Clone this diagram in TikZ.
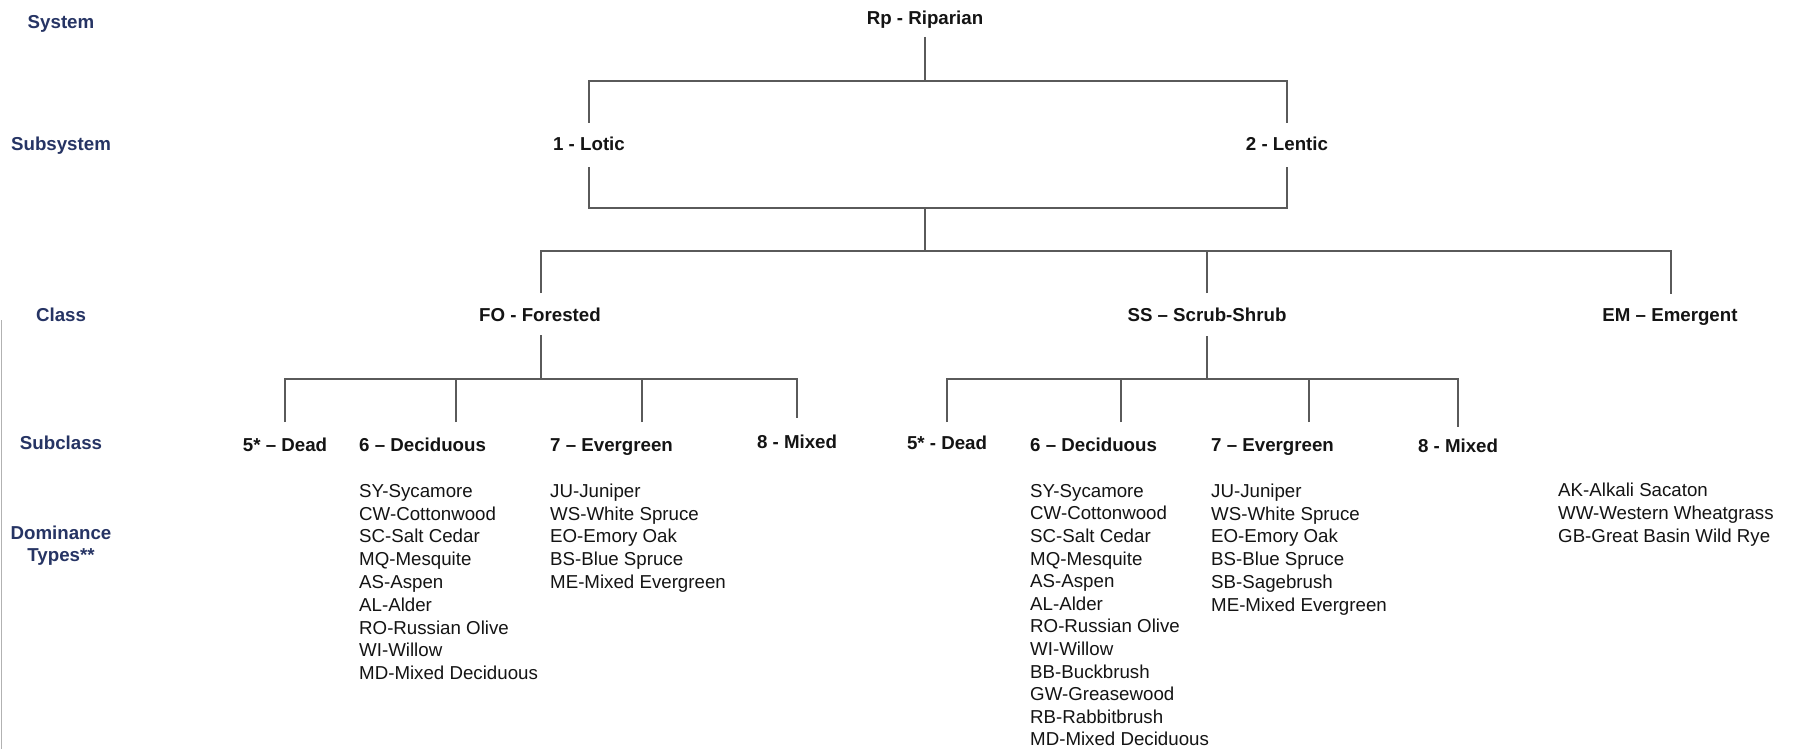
\documentclass[tikz,border=0pt]{standalone}
\usepackage{fontspec}
\setmainfont{Liberation Sans}
\definecolor{labcol}{RGB}{38,52,100}
\definecolor{linecol}{RGB}{90,90,90}
\definecolor{txtcol}{RGB}{20,20,20}
\begin{document}
\begin{tikzpicture}[x=1pt,y=-1pt,
  lvl/.style={font=\bfseries\fontsize{18.7}{22.8}\selectfont, text=labcol, anchor=base, inner sep=0pt},
  lbl/.style={font=\bfseries\fontsize{18.7}{22.8}\selectfont, text=txtcol, anchor=base, inner sep=0pt},
  lblw/.style={lbl, anchor=base west},
  item/.style={font=\fontsize{18.7}{22.8}\selectfont, text=txtcol, anchor=base west, inner sep=0pt},
  conn/.style={draw=linecol, line width=1.3pt}]
\fill[white] (0,0) rectangle (1795,749);
\useasboundingbox (0,0) rectangle (1795,749);
\draw[black!30, line width=1pt] (1,320) -- (1,749);

% left level labels
\node[lvl] (lsys) at (61,28.5) {System};
\node[lvl] (lsub) at (61,150.7) {Subsystem};
\node[lvl] (lcls) at (61,321) {Class};
\node[lvl] (lscl) at (61,449) {Subclass};
\node[lvl] (ldom) at (61,539) {Dominance};
\node[lvl] (ltyp) at (61,561.7) {Types**};

% tree labels
\node[lbl] (rp) at (925,25) {Rp - Riparian};
\node[lbl] (lot) at (589,150.7) {1 - Lotic};
\node[lbl] (len) at (1287,150.7) {2 - Lentic};
\node[lbl] (fo) at (540,321) {FO - Forested};
\node[lbl] (ss) at (1207,321.5) {SS – Scrub-Shrub};
\node[lbl] (em) at (1670,321.5) {EM – Emergent};

\node[lbl] (fo5) at (285,451.5) {5* – Dead};
\node[lblw] (fo6) at (359,451.7) {6 – Deciduous};
\node[lblw] (fo7) at (550,451) {7 – Evergreen};
\node[lbl] (fo8) at (797,448.5) {8 - Mixed};
\node[lbl] (ss5) at (947,449.5) {5* - Dead};
\node[lblw] (ss6) at (1030,451.5) {6 – Deciduous};
\node[lblw] (ss7) at (1211,451.5) {7 – Evergreen};
\node[lbl] (ss8) at (1458,452.5) {8 - Mixed};

% dominance lists
\foreach \t [count=\i] in {SY-Sycamore,CW-Cottonwood,SC-Salt Cedar,MQ-Mesquite,AS-Aspen,AL-Alder,RO-Russian Olive,WI-Willow,MD-Mixed Deciduous}
  \node[item] (fod\i) at (359,{497.3+(\i-1)*22.8}) {\t};
\foreach \t [count=\i] in {JU-Juniper,WS-White Spruce,EO-Emory Oak,BS-Blue Spruce,ME-Mixed Evergreen}
  \node[item] (foe\i) at (550,{497.3+(\i-1)*22.8}) {\t};
\foreach \t [count=\i] in {SY-Sycamore,CW-Cottonwood,SC-Salt Cedar,MQ-Mesquite,AS-Aspen,AL-Alder,RO-Russian Olive,WI-Willow,BB-Buckbrush,GW-Greasewood,RB-Rabbitbrush,MD-Mixed Deciduous}
  \node[item] (ssd\i) at (1030,{497.3+(\i-1)*22.6}) {\t};
\foreach \t [count=\i] in {JU-Juniper,WS-White Spruce,EO-Emory Oak,BS-Blue Spruce,SB-Sagebrush,ME-Mixed Evergreen}
  \node[item] (sse\i) at (1211,{497.3+(\i-1)*22.8}) {\t};
\foreach \t [count=\i] in {AK-Alkali Sacaton,WW-Western Wheatgrass,GB-Great Basin Wild Rye}
  \node[item] (emd\i) at (1558,{496.5+(\i-1)*22.8}) {\t};

% connector coordinates
\coordinate (rpB) at (925,37);
\coordinate (b1) at (925,81);
\coordinate (lotT) at (589,123);
\coordinate (lotB) at (589,167);
\coordinate (lenT) at (1287,123);
\coordinate (lenB) at (1287,167);
\coordinate (b2) at (925,208);
\coordinate (b3) at (925,251);
\coordinate (foT) at (541,293);
\coordinate (foB) at (541,335);
\coordinate (ssT) at (1207,293);
\coordinate (ssB) at (1207,336);
\coordinate (emT) at (1671,294);
\coordinate (fob) at (541,379);
\coordinate (ssb) at (1207,379);
\coordinate (fs1) at (285,422);
\coordinate (fs2) at (456,422);
\coordinate (fs3) at (642,422);
\coordinate (fs4) at (797,418);
\coordinate (sc1) at (947,422);
\coordinate (sc2) at (1121,422);
\coordinate (sc3) at (1309,422);
\coordinate (sc4) at (1458,427);

\draw[conn] (rpB) -- (b1);
\draw[conn] (lotT) |- (b1) -| (lenT);
\draw[conn] (lotB) |- (b2) -| (lenB);
\draw[conn] (b2) -- (b3);
\draw[conn] (foT) |- (b3) -| (emT);
\draw[conn] (ssT) -- (ssT |- b3);
\draw[conn] (foB) -- (fob);
\draw[conn] (fs1) |- (fob) -| (fs4);
\draw[conn] (fs2) -- (fs2 |- fob);
\draw[conn] (fs3) -- (fs3 |- fob);
\draw[conn] (ssB) -- (ssb);
\draw[conn] (sc1) |- (ssb) -| (sc4);
\draw[conn] (sc2) -- (sc2 |- ssb);
\draw[conn] (sc3) -- (sc3 |- ssb);
\end{tikzpicture}
\end{document}
